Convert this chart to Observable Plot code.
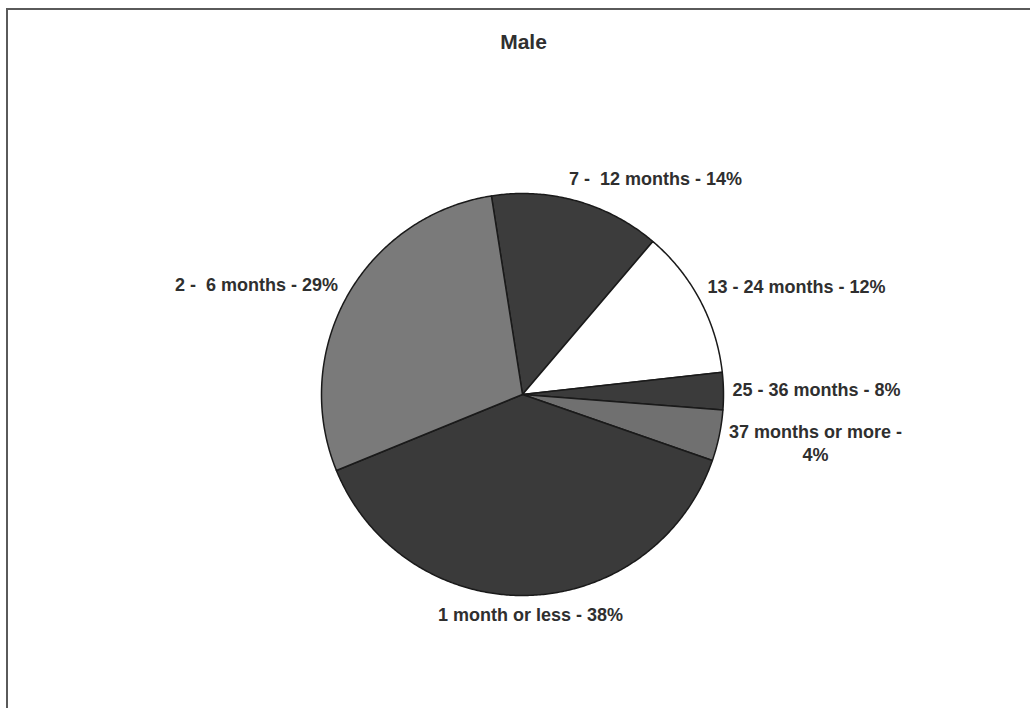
<!DOCTYPE html>
<html>
<head>
<meta charset="utf-8">
<script src="https://cdn.jsdelivr.net/npm/d3@7"></script>
<script src="https://cdn.jsdelivr.net/npm/@observablehq/plot@0.6"></script>
<style>
  html, body { margin: 0; padding: 0; background: #fff; }
  #wrap { position: relative; width: 1030px; height: 708px; overflow: hidden; }
  #frame { position: absolute; left: 6px; top: 8px; width: 1030px; height: 720px;
           border-left: 2px solid #5a5a5a; border-top: 2px solid #5a5a5a; box-sizing: border-box; }
  #chart { position: absolute; left: 0; top: 0; }
  #chart text { white-space: pre; }
</style>
</head>
<body>
<div id="wrap"><div id="frame"></div><div id="chart"></div></div>
<script>
// ---- data ----
const title = "Male";
const categories = ["7 -\u00a0 12 months", "13 - 24 months", "25 - 36 months", "37 months or more", "1 month or less", "2 -\u00a0 6 months"];
const sliceShares = [13.7, 12, 3, 4.1, 38.5, 28.7];          // slice sizes as drawn
const labelPercents = ["14%", "12%", "8%", "4%", "38%", "29%"]; // percentages printed on labels
const sliceColors = ["#3c3c3c", "#ffffff", "#3b3b3b", "#707070", "#3a3a3a", "#7a7a7a"];

// ---- layout ----
const W = 1030, H = 708;
const cx = 522, cy = 394, R = 201;
const startDeg = -8.9;
// label offsets from pie centre (layout only)
const labelOffsets = [[133, -217], [274, -109], [294, -6], [293, 48], [8, 219], [-266, -111]];

const pie = d3.pie().sort(null).value(d => d)
  .startAngle(startDeg * Math.PI / 180)
  .endAngle((startDeg + 360) * Math.PI / 180);
const arcs = pie(sliceShares);

function slicePoints(a, i) {
  const pts = [{x: cx, y: cy, k: i}];
  const n = Math.max(4, Math.ceil((a.endAngle - a.startAngle) / (Math.PI / 360)));
  for (let j = 0; j <= n; j++) {
    const t = a.startAngle + (a.endAngle - a.startAngle) * j / n;
    pts.push({x: cx + R * Math.sin(t), y: cy - R * Math.cos(t), k: i});
  }
  pts.push({x: cx, y: cy, k: i});
  return pts;
}

const sliceMarks = arcs.map((a, i) =>
  Plot.line(slicePoints(a, i), {
    x: "x", y: "y", fill: sliceColors[i], stroke: "#1a1a1a",
    strokeWidth: 1.5, strokeLinejoin: "round"
  })
);

const labels = categories.map((c, i) => ({
  text: c + " - " + labelPercents[i],
  x: cx + labelOffsets[i][0],
  y: cy + labelOffsets[i][1]
}));
// the long label wraps in the original
labels[3].text = categories[3] + " -\n" + labelPercents[3];

const chart = Plot.plot({
  width: W, height: H,
  marginTop: 0, marginRight: 0, marginBottom: 0, marginLeft: 0,
  x: {domain: [0, W], range: [0, W], axis: null},
  y: {domain: [0, H], range: [0, H], axis: null},
  style: {background: "transparent", fontFamily: "'Liberation Sans', Arial, sans-serif"},
  marks: [
    ...sliceMarks,
    Plot.text(labels, {
      x: "x", y: "y", text: "text", fontSize: 18, fontWeight: "bold",
      fill: "#2f2f2f", lineHeight: 1.28, textAnchor: "middle"
    }),
    Plot.text([title], {
      x: () => 523, y: () => 41.6, text: d => d, fontSize: 21,
      fontWeight: "bold", fill: "#2f2f2f"
    })
  ]
});
document.getElementById("chart").appendChild(chart);
</script>
</body>
</html>
